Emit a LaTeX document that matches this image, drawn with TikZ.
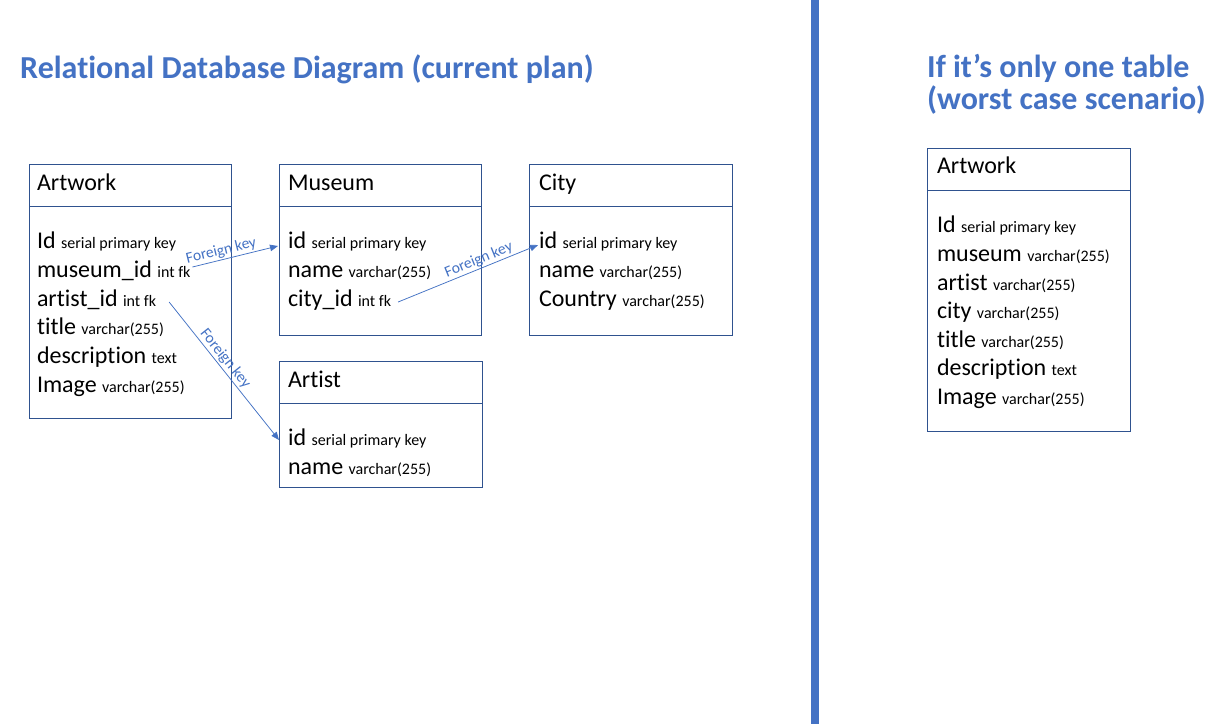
\documentclass[tikz,border=0pt]{standalone}
\usepackage{fontspec}
\setmainfont{Carlito}[Ligatures=NoCommon]
\usetikzlibrary{arrows.meta,calc}
\definecolor{accent}{HTML}{4472C4}
\definecolor{boxline}{HTML}{2F528F}
\newcommand{\sm}[1]{{\fontsize{16}{19}\selectfont #1}}
\begin{document}
\begin{tikzpicture}[x=1pt,y=-1pt,
  tbl/.style={draw=boxline, line width=0.9pt, anchor=north west, inner sep=0pt, outer sep=0pt},
  row/.style={anchor=base west, inner sep=0pt, outer sep=0pt, font=\fontsize{24}{28.8}\selectfont},
  ttl/.style={anchor=base west, inner sep=0pt, text=accent, font=\fontsize{32}{36}\selectfont\bfseries},
  conn/.style={draw=accent, line width=0.75pt, -{Triangle[length=8pt,width=6.5pt]}},
  lbl/.style={font=\fontsize{15.5}{18}\selectfont, text=accent, sloped, above, inner sep=1.5pt}]
\fill[white] (0,0) rectangle (1225,724);
\useasboundingbox (0,0) rectangle (1225,724);

% titles
\node[ttl] (t1) at (20,78) {Relational Database Diagram (current plan)};
\node[ttl] (t2a) at (927,77) {If it’s only one table};
\node[ttl] (t2b) at (927,109) {(worst case scenario)};

% separator
\fill[accent] (811,0) rectangle (819,724);

% Artwork table
\node[tbl, minimum width=202pt, minimum height=254pt] (artwork) at (29,164) {};
\draw[boxline, line width=0.9pt] ($(artwork.north west)+(0,42)$) -- ($(artwork.north east)+(0,42)$);
\node[row] (aw-h) at (37,190) {Artwork};
\node[row] (aw-id) at (37,248) {Id \sm{serial primary key}};
\node[row] (aw-mus) at (37,277) {museum\_id \sm{int fk}};
\node[row] (aw-art) at (37,306) {artist\_id \sm{int fk}};
\node[row] (aw-tit) at (37,334.5) {title \sm{varchar(255)}};
\node[row] (aw-des) at (37,363) {description \sm{text}};
\node[row] (aw-img) at (37,392) {Image \sm{varchar(255)}};

% Museum table
\node[tbl, minimum width=202pt, minimum height=171pt] (museum) at (279,164) {};
\draw[boxline, line width=0.9pt] ($(museum.north west)+(0,42)$) -- ($(museum.north east)+(0,42)$);
\node[row] (mu-h) at (288,190) {Museum};
\node[row] (mu-id) at (288,248) {id \sm{serial primary key}};
\node[row] (mu-name) at (288,277) {name \sm{varchar(255)}};
\node[row] (mu-city) at (288,306) {city\_id \sm{int fk}};

% City table
\node[tbl, minimum width=203pt, minimum height=171pt] (city) at (529,164) {};
\draw[boxline, line width=0.9pt] ($(city.north west)+(0,42)$) -- ($(city.north east)+(0,42)$);
\node[row] (ci-h) at (539,190) {City};
\node[row] (ci-id) at (539,248) {id \sm{serial primary key}};
\node[row] (ci-name) at (539,277) {name \sm{varchar(255)}};
\node[row] (ci-cty) at (539,306) {Country \sm{varchar(255)}};

% Artist table
\node[tbl, minimum width=203pt, minimum height=126pt] (artist) at (279,361) {};
\draw[boxline, line width=0.9pt] ($(artist.north west)+(0,42)$) -- ($(artist.north east)+(0,42)$);
\node[row] (ar-h) at (288,387) {Artist};
\node[row] (ar-id) at (288,445) {id \sm{serial primary key}};
\node[row] (ar-name) at (288,474) {name \sm{varchar(255)}};

% Single table
\node[tbl, minimum width=203pt, minimum height=283pt] (single) at (927,148) {};
\draw[boxline, line width=0.9pt] ($(single.north west)+(0,42)$) -- ($(single.north east)+(0,42)$);
\node[row] (sg-h) at (937,173) {Artwork};
\node[row] (sg-id) at (937,232) {Id \sm{serial primary key}};
\node[row] (sg-mus) at (937,261) {museum \sm{varchar(255)}};
\node[row] (sg-art) at (937,290) {artist \sm{varchar(255)}};
\node[row] (sg-cit) at (937,318.5) {city \sm{varchar(255)}};
\node[row] (sg-tit) at (937,347) {title \sm{varchar(255)}};
\node[row] (sg-des) at (937,375.5) {description \sm{text}};
\node[row] (sg-img) at (937,404) {Image \sm{varchar(255)}};

% connectors
\draw[conn] ($(aw-mus.base east)+(2,-10)$) -- ($(mu-id.base west)+(-10,-2)$)
  node[lbl, pos=0.36] {Foreign key};
\draw[conn] ($(aw-art.base east)+(13,-4)$) -- ($(ar-id.base west)+(-9,-5)$)
  node[lbl, pos=0.45] {Foreign key};
\draw[conn] ($(mu-city.base east)+(7,-4)$) -- ($(ci-id.base west)+(-1,-3)$)
  node[lbl, pos=0.6] {Foreign key};
\end{tikzpicture}
\end{document}
